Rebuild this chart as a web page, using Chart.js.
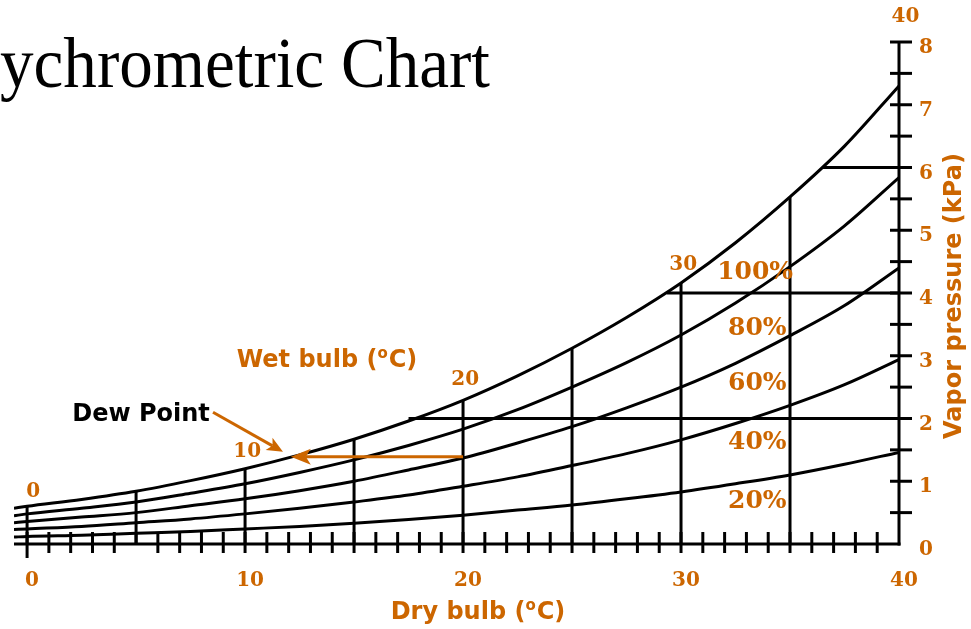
<!DOCTYPE html>
<html><head><meta charset="utf-8">
<script src="https://cdn.jsdelivr.net/npm/chart.js@4"></script>
<style>html,body{margin:0;padding:0;background:#fff;overflow:hidden}</style>
</head><body>
<canvas id="c" width="971" height="629" style="width:971px;height:629px;display:block"></canvas>
<script>
// ---- data ----
const dryBulb = [-0.6, 0, 2.5, 5, 7.5, 10, 12.5, 15, 17.5, 20, 22.5, 25, 27.5, 30, 32.5, 35, 37.5, 40];
const rh100 = [0.57, 0.60, 0.71, 0.84, 1.01, 1.20, 1.42, 1.67, 1.96, 2.29, 2.68, 3.12, 3.61, 4.16, 4.80, 5.53, 6.34, 7.30];
const rh80  = [0.45, 0.48, 0.57, 0.67, 0.81, 0.96, 1.14, 1.34, 1.57, 1.83, 2.14, 2.50, 2.89, 3.33, 3.84, 4.42, 5.07, 5.84];
const rh60  = [0.34, 0.36, 0.43, 0.50, 0.61, 0.72, 0.85, 1.00, 1.18, 1.37, 1.61, 1.87, 2.17, 2.50, 2.88, 3.32, 3.80, 4.40];
const rh40  = [0.23, 0.24, 0.28, 0.34, 0.40, 0.48, 0.57, 0.67, 0.78, 0.92, 1.07, 1.25, 1.44, 1.66, 1.92, 2.21, 2.54, 2.94];
const rh20  = [0.11, 0.12, 0.14, 0.17, 0.20, 0.24, 0.28, 0.33, 0.39, 0.46, 0.54, 0.62, 0.72, 0.83, 0.96, 1.10, 1.27, 1.46];

const vLineX   = [0, 5, 10, 15, 20, 25, 30, 35];
const vLineTop = [0.62, 0.84, 1.20, 1.67, 2.29, 3.12, 4.16, 5.53];

const hLineY     = [2, 4, 6];
const hLineStart = [17.5, 29.35, 36.5];

const xTickLabels = ['0', '10', '20', '30', '40'];
const xTickValues = [0, 10, 20, 30, 40];
const yTickLabels = ['0', '1', '2', '3', '4', '5', '6', '7', '8'];
const yTickValues = [0, 1, 2, 3, 4, 5, 6, 7, 8];

const wetBulbLabels = ['0', '10', '20', '30', '40'];
const wetBulbX = [0.28, 10.1, 20.1, 30.1, 40.3];
const wetBulbY = [0.83, 1.47, 2.61, 4.45, 8.40];

const rhLabels = ['100%', '80%', '60%', '40%', '20%'];
const rhLabelX = [33.4, 33.5, 33.5, 33.5, 33.5];
const rhLabelY = [4.33, 3.44, 2.55, 1.62, 0.67];

const dewArrowFrom = [8.53, 2.10];
const dewArrowTo   = [11.74, 1.47];
const dryArrowFrom = [20, 1.39];
const dryArrowTo   = [12.1, 1.39];

// ---- styles ----
const ORANGE = '#CC6600';
const SERIF = '"DejaVu Serif", "Liberation Serif", serif';
const TITLEFONT = '"Liberation Serif", serif';
const SANS = '"DejaVu Sans", Verdana, sans-serif';
const LW = 3;

const curveSets = [rh100, rh80, rh60, rh40, rh20];
const datasets = [];
curveSets.forEach(arr => {
  datasets.push({
    data: dryBulb.map((x, i) => ({x: x, y: arr[i]})),
    borderColor: '#000', borderWidth: LW, pointRadius: 0,
    showLine: true, cubicInterpolationMode: 'monotone', fill: false
  });
});
vLineX.forEach((x, i) => {
  datasets.push({
    data: [{x: x, y: 0}, {x: x, y: vLineTop[i]}],
    borderColor: '#000', borderWidth: LW, pointRadius: 0, showLine: true
  });
});
hLineY.forEach((y, i) => {
  datasets.push({
    data: [{x: hLineStart[i], y: y}, {x: 40, y: y}],
    borderColor: '#000', borderWidth: LW, pointRadius: 0, showLine: true
  });
});

function arrow(ctx, x1, y1, x2, y2, len, half) {
  const a = Math.atan2(y2 - y1, x2 - x1);
  const bx = x2 - Math.cos(a) * len * 0.75, by = y2 - Math.sin(a) * len * 0.75;
  ctx.beginPath();
  ctx.moveTo(x1, y1); ctx.lineTo(bx, by); ctx.stroke();
  ctx.beginPath();
  ctx.moveTo(x2, y2);
  ctx.lineTo(x2 - Math.cos(a) * len - Math.sin(a) * half, y2 - Math.sin(a) * len + Math.cos(a) * half);
  ctx.lineTo(bx, by);
  ctx.lineTo(x2 - Math.cos(a) * len + Math.sin(a) * half, y2 - Math.sin(a) * len - Math.cos(a) * half);
  ctx.closePath();
  ctx.fill();
}

function supText(ctx, before, sup, after, cx, cy, size, family) {
  const big = 'bold ' + size + 'px ' + family;
  const small = 'bold ' + Math.round(size * 0.62) + 'px ' + family;
  ctx.font = big; const w1 = ctx.measureText(before).width; const w3 = ctx.measureText(after).width;
  ctx.font = small; const w2 = ctx.measureText(sup).width + 1;
  let x = cx - (w1 + w2 + w3) / 2;
  ctx.textAlign = 'left'; ctx.textBaseline = 'middle';
  ctx.font = big; ctx.fillText(before, x, cy); x += w1;
  ctx.font = small; ctx.fillText(sup, x, cy - size * 0.28); x += w2;
  ctx.font = big; ctx.fillText(after, x, cy);
}

const decor = {
  id: 'decor',
  afterDatasetsDraw(chart) {
    const ctx = chart.ctx, xs = chart.scales.x, ys = chart.scales.y;
    const X = v => xs.getPixelForValue(v), Y = v => ys.getPixelForValue(v);
    ctx.save();
    ctx.strokeStyle = '#000'; ctx.lineWidth = LW; ctx.lineCap = 'butt';
    // x axis line
    ctx.beginPath(); ctx.moveTo(X(-0.6), Y(0)); ctx.lineTo(X(40) + 1.5, Y(0)); ctx.stroke();
    // y axis line
    ctx.beginPath(); ctx.moveTo(X(40), Y(0) + 1.5); ctx.lineTo(X(40), Y(8)); ctx.stroke();
    // x minor ticks
    for (let t = 0; t < 40; t++) {
      ctx.beginPath();
      if (t === 5) { ctx.moveTo(X(t), Y(0) - 12); ctx.lineTo(X(t), Y(0)); }
      else { ctx.moveTo(X(t), Y(0) - 12); ctx.lineTo(X(t), Y(0) + (t === 0 ? 14 : 9)); }
      ctx.stroke();
    }
    // y minor ticks
    for (let t = 0.5; t <= 8.001; t += 0.5) {
      ctx.beginPath(); ctx.moveTo(X(40) - 9, Y(t)); ctx.lineTo(X(40) + 13, Y(t)); ctx.stroke();
    }
    // tick labels
    ctx.fillStyle = ORANGE;
    ctx.font = 'bold 20px ' + SERIF;
    ctx.textAlign = 'center'; ctx.textBaseline = 'middle';
    xTickValues.forEach((v, i) => ctx.fillText(xTickLabels[i], X(v) + 5, Y(0) + 37));
    ctx.textAlign = 'left';
    yTickValues.forEach((v, i) => ctx.fillText(yTickLabels[i], X(40) + 20, Y(v) + 6));
    // wet bulb labels
    ctx.textAlign = 'center';
    wetBulbLabels.forEach((s, i) => ctx.fillText(s, X(wetBulbX[i]), Y(wetBulbY[i])));
    // RH labels
    ctx.font = 'bold 25px ' + SERIF;
    rhLabels.forEach((s, i) => ctx.fillText(s, X(rhLabelX[i]), Y(rhLabelY[i])));
    // arrows
    ctx.strokeStyle = ORANGE; ctx.fillStyle = ORANGE; ctx.lineWidth = 3;
    arrow(ctx, X(dewArrowFrom[0]), Y(dewArrowFrom[1]), X(dewArrowTo[0]), Y(dewArrowTo[1]), 16, 7);
    arrow(ctx, X(dryArrowFrom[0]), Y(dryArrowFrom[1]), X(dryArrowTo[0]), Y(dryArrowTo[1]), 20, 8);
    // axis titles
    supText(ctx, 'Dry bulb (', 'o', 'C)', 478, 613, 24, SANS);
    supText(ctx, 'Wet bulb (', 'o', 'C)', 327, 361, 24, SANS);
    ctx.save();
    ctx.translate(955, 296); ctx.rotate(-Math.PI / 2);
    ctx.font = 'bold 24px ' + SANS; ctx.textAlign = 'center'; ctx.textBaseline = 'middle';
    ctx.fillText('Vapor pressure (kPa)', 0, 0);
    ctx.restore();
    // Dew point label
    ctx.fillStyle = '#000'; ctx.font = 'bold 24px ' + SANS;
    ctx.textAlign = 'center'; ctx.textBaseline = 'middle';
    ctx.fillText('Dew Point', 141, 415);
    // title
    ctx.font = '71px ' + TITLEFONT;
    const full = 'Psychrometric Chart', part = 'ychrometric Chart';
    const wPart = ctx.measureText(part).width;
    const sx = 490 / wPart;
    ctx.save();
    ctx.translate(490, 87); ctx.scale(sx, 1);
    ctx.textAlign = 'right'; ctx.textBaseline = 'alphabetic';
    ctx.fillText(full, 0, 0);
    ctx.restore();
    ctx.restore();
  }
};

new Chart(document.getElementById('c'), {
  type: 'scatter',
  data: { datasets: datasets },
  options: {
    responsive: false, animation: false, devicePixelRatio: 1,
    layout: { padding: { left: 14, right: 72, top: 42, bottom: 85 } },
    scales: {
      x: { type: 'linear', min: -0.6, max: 40, display: false },
      y: { type: 'linear', min: 0, max: 8, display: false }
    },
    plugins: { legend: { display: false }, tooltip: { enabled: false } },
    elements: { line: { borderCapStyle: 'butt' } }
  },
  plugins: [decor]
});
</script>
</body></html>
